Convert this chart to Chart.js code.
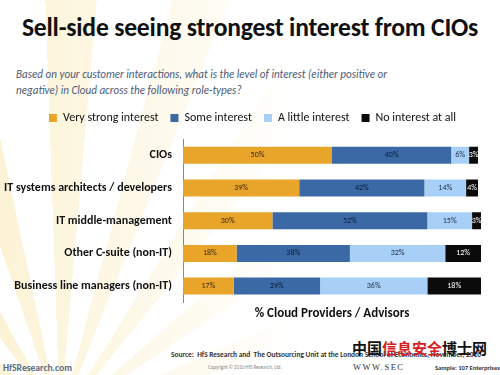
<!DOCTYPE html>
<html>
<head>
<meta charset="utf-8">
<script src="https://cdn.jsdelivr.net/npm/chart.js@4"></script>
<style>
  html, body { margin:0; padding:0; }
  body { width:500px; height:375px; position:relative; overflow:hidden; font-family:Calibri, Carlito, "Open Sans", "Liberation Sans", sans-serif;
    background:
      linear-gradient(to right, rgba(255,255,255,0) 0px, rgba(255,255,255,.5) 150px, #fff 300px),
      repeating-conic-gradient(from 290deg at 60px 420px, #fcf3d6 0deg 7deg, #fff 7deg 17deg); }
  #title { position:absolute; left:0; width:500px; top:12px; text-align:center; font-weight:bold; font-size:25.6px; color:#111; letter-spacing:-0.2px; white-space:nowrap; }
  #sub { position:absolute; left:16px; top:66px; font-style:italic; font-size:11.1px; line-height:16px; color:#4a5b78; white-space:nowrap; }
  #wrap { position:absolute; left:0; top:100px; width:500px; height:222px; }
  #src { position:absolute; left:171px; top:350px; font-size:7.4px; font-weight:bold; color:#333; white-space:nowrap; }
  #copy { position:absolute; left:208px; top:364px; font-size:5px; color:#888; white-space:nowrap; }
  #site { position:absolute; left:3px; top:362px; font-size:9.6px; font-weight:bold; color:#5b6b80; white-space:nowrap; }
  #wm { position:absolute; left:352px; top:337px; font-size:15px; font-family:"Noto Sans CJK SC", sans-serif; font-weight:bold; white-space:nowrap; }
  #wm2 { position:absolute; left:353px; top:362px; font-size:8.5px; font-family:"Liberation Serif", serif; color:#333; letter-spacing:1.5px; white-space:nowrap; }
  #samp { position:absolute; left:435px; top:364px; font-size:6.5px; font-weight:bold; color:#333; white-space:nowrap; }
</style>
</head>
<body>
<div id="title">Sell-side seeing strongest interest from CIOs</div>
<div id="sub">Based on your customer interactions, what is the level of interest (either positive or<br>negative) in Cloud across the following role-types?</div>
<div id="wrap"><canvas id="c" width="500" height="222"></canvas></div>
<div id="src">Source:&nbsp; HfS Research and&nbsp; The Outsourcing Unit at the London School of Economics, November, 2010</div>
<div id="copy">Copyright © 2010 HfS Research, Ltd.</div>
<div id="site">HfSResearch.com</div>
<div id="wm"><span style="color:#111">中国</span><span style="color:#d42020">信息安全</span><span style="color:#111">博士网</span></div>
<div id="wm2">WWW.SEC</div>
<div id="samp">Sample: 107 Enterprises</div>
<script>
var ROLES = ['CIOs', 'IT systems architects / developers', 'IT middle-management', 'Other C-suite (non-IT)', 'Business line managers (non-IT)'];
var VERY_STRONG = [50, 39, 30, 18, 17];
var SOME = [40, 42, 52, 38, 29];
var A_LITTLE = [6, 14, 15, 32, 36];
var NONE = [3, 4, 3, 12, 18];

var LABEL_COLORS = ['#3a2a10', '#0e1d38', '#1b2c48', '#ffffff'];
var FONT = 'Calibri, Carlito, "Open Sans", sans-serif';

var segLabels = {
  id: 'segLabels',
  afterDatasetsDraw: function(chart) {
    var ctx = chart.ctx;
    ctx.save();
    ctx.font = '8px ' + FONT;
    ctx.textAlign = 'center';
    ctx.textBaseline = 'middle';
    chart.data.datasets.forEach(function(ds, di) {
      var meta = chart.getDatasetMeta(di);
      meta.data.forEach(function(bar, i) {
        ctx.fillStyle = LABEL_COLORS[di];
        ctx.fillText(ds.data[i] + '%', (bar.x + bar.base) / 2, bar.y);
      });
    });
    ctx.restore();
  }
};

// nudge the legend so it sits centred on the slide, not on the padded chart
var legendShift = {
  id: 'legendShift',
  afterLayout: function(chart) {
    if (chart.legend) { chart.legend.left += 12; chart.legend.right += 12; }
  }
};

new Chart(document.getElementById('c'), {
  type: 'bar',
  data: {
    labels: ROLES,
    datasets: [
      {label:'Very strong interest', data:VERY_STRONG, backgroundColor:'#e9a42a'},
      {label:'Some interest', data:SOME, backgroundColor:'#3a69a6'},
      {label:'A little interest', data:A_LITTLE, backgroundColor:'#a8d0f6'},
      {label:'No interest at all', data:NONE, backgroundColor:'#0b0b0b'}
    ]
  },
  options: {
    indexAxis: 'y',
    responsive: false,
    animation: false,
    layout: {padding:{left:0, right:19, top:0, bottom:0}},
    datasets: {bar:{barPercentage:0.52, categoryPercentage:1, borderWidth:0}},
    plugins: {
      legend: {position:'top', labels:{color:'#111', font:{size:12, family:FONT}, boxWidth:8, boxHeight:8, padding:12}},
      tooltip: {enabled:false}
    },
    scales: {
      x: {stacked:true, min:0, max:100, grid:{display:false}, border:{display:false}, ticks:{display:false},
        title:{display:true, text:'% Cloud Providers / Advisors', color:'#111', font:{size:13, weight:'bold', family:FONT}, padding:{top:-4, bottom:0}}},
      gap: {axis:'x', position:'top', display:true, grid:{display:false}, border:{display:false}, ticks:{display:false},
        afterFit:function(s){ s.height = 5; }},
      y: {stacked:true, grid:{display:false}, border:{display:true, color:'#888', width:1},
        ticks:{color:'#111', padding:3, font:{size:12, weight:'bold', family:FONT}},
        afterFit:function(s){ s.width = 183; }}
    }
  },
  plugins: [segLabels, legendShift]
});
</script>
</body>
</html>
